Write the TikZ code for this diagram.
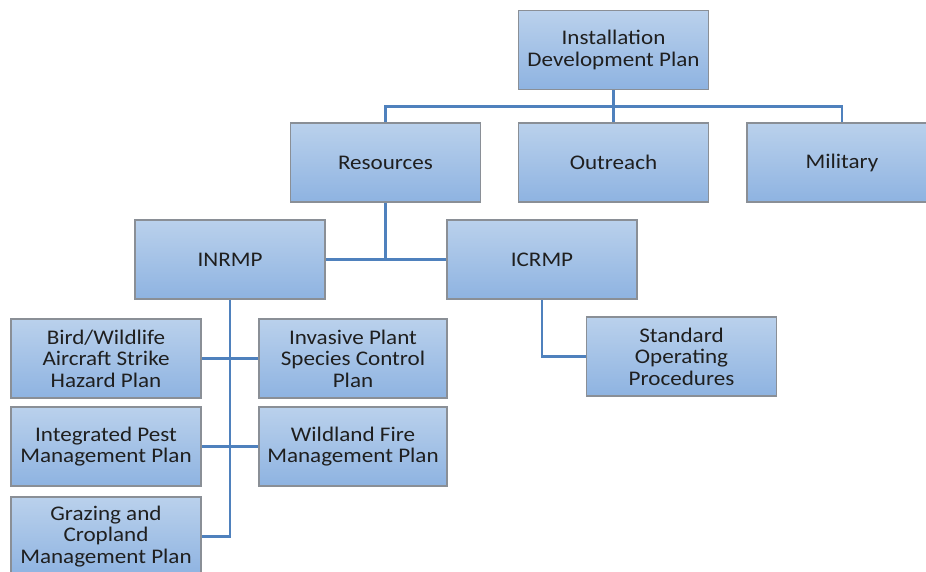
\documentclass[tikz,border=0pt]{standalone}
\usepackage{fontspec}
\setmainfont{Carlito}[FakeStretch=1.11]
\usetikzlibrary{backgrounds}
\definecolor{boxtop}{HTML}{BAD1EC}
\definecolor{boxbot}{HTML}{8EB3E1}
\definecolor{boxline}{HTML}{8A8F96}
\definecolor{conn}{HTML}{4F81BD}
\definecolor{txt}{HTML}{1F1F1F}
\begin{document}
\begin{tikzpicture}[x=1pt,y=-1pt,
  orgbox/.style={rectangle, draw=boxline, line width=1.3pt, top color=boxtop, bottom color=boxbot,
    minimum width=190pt, minimum height=79pt, inner sep=2pt, align=center, text=txt,
    font=\fontsize{20.8}{21.5}\selectfont},
  link/.style={draw=conn, line width=2.3pt}]
\path[use as bounding box] (0,0) rectangle (926,571);
\clip (0,0) rectangle (926,571);
\node[orgbox] (IDP) at (613.5,50) {Installation\\Development Plan};
\node[orgbox] (Res) at (385.5,162.5) {Resources};
\node[orgbox] (Out) at (613.5,162.5) {Outreach};
\node[orgbox] (Mil) at (842,162.5) {Military};
\node[orgbox] (INRMP) at (230,259.5) {INRMP};
\node[orgbox] (ICRMP) at (542,259.5) {ICRMP};
\node[orgbox] (Bird) at (106,358.5) {Bird/Wildlife\\Aircraft Strike\\Hazard Plan};
\node[orgbox, minimum width=188pt] (Inv) at (353,358.5) {Invasive Plant\\Species Control\\Plan};
\node[orgbox] (Pest) at (106,446.5) {Integrated Pest\\Management Plan};
\node[orgbox, minimum width=188pt] (Wild) at (353,446.5) {Wildland Fire\\Management Plan};
\node[orgbox] (Graz) at (106,536.5) {Grazing and\\Cropland\\Management Plan};
\node[orgbox] (SOP) at (681.5,356.5) {Standard\\Operating\\Procedures};
\coordinate (bus) at (613.5,106.5);
\begin{pgfonlayer}{background}
\path[link] (Res.north) |- (bus) -| (Mil.north);
\path[link] (IDP.south) -- (Out.north);
\path[link] (Res.south) -- (Res.south |- INRMP.east);
\path[link] (INRMP.east) -- (ICRMP.west);
\path[link] (INRMP.south) |- (Graz.east);
\path[link] (Bird.east) -- (Inv.west);
\path[link] (Pest.east) -- (Wild.west);
\path[link] (ICRMP.south) |- (SOP.west);
\end{pgfonlayer}
\end{tikzpicture}
\end{document}
